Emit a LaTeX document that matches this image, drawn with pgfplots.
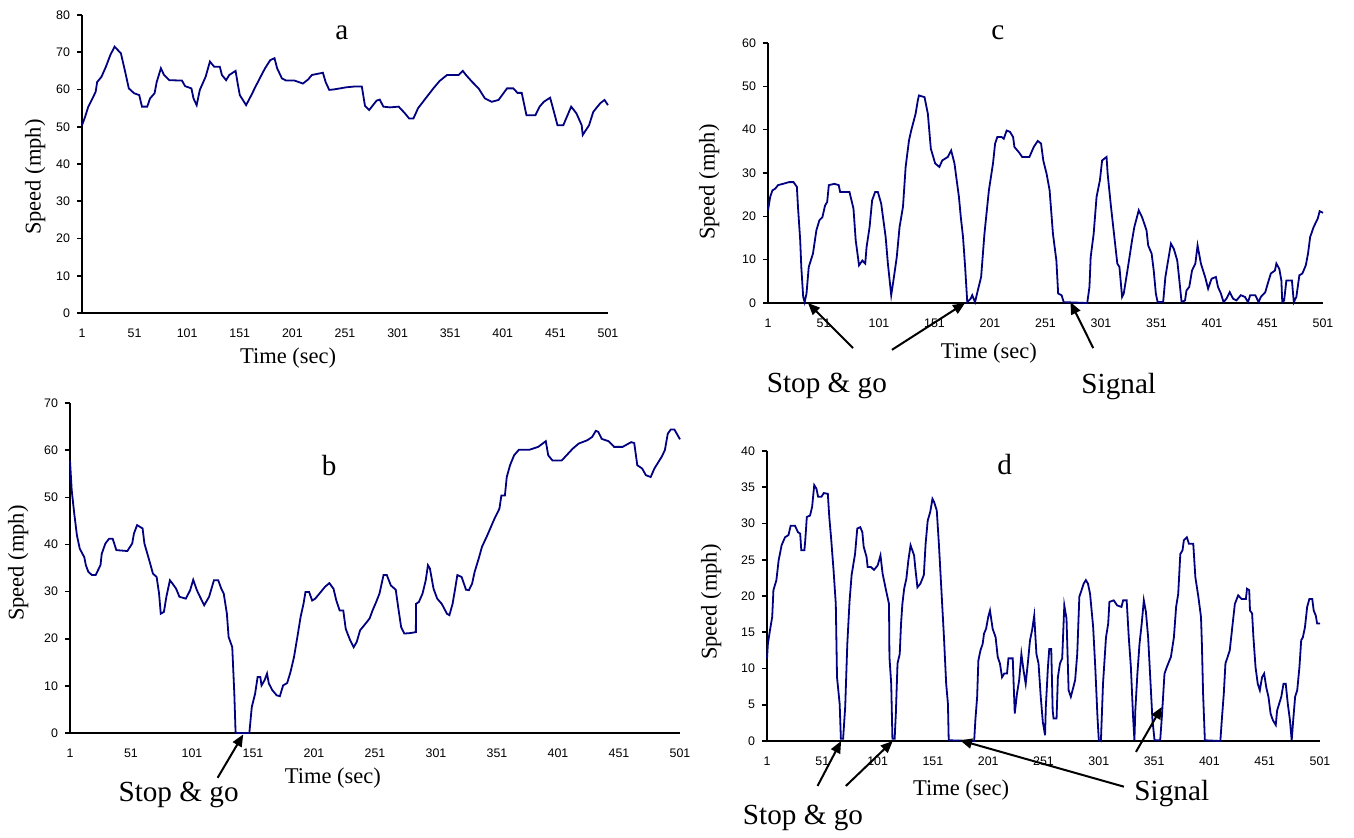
\documentclass[border=0pt]{standalone}
\usepackage{fontspec}
\setmainfont{Liberation Serif}
\setsansfont{Liberation Sans}
\usepackage{pgfplots}
\pgfplotsset{compat=1.18}
\usetikzlibrary{arrows.meta}

\definecolor{trace}{RGB}{0,0,128}

\pgfplotsset{
  panel/.style={
    scale only axis,
    axis lines=left,
    axis line style={-, line width=1pt},
    xmin=1, xmax=501, ymin=0,
    xtick={1,51,...,501},
    xtick style={draw=none},
    ytick style={black, line width=0.8pt},
    tick align=outside,
    major tick length=2.5pt,
    tick label style={font=\fontsize{6.2}{7}\selectfont\sffamily},
    /pgf/number format/assume math mode=true,
    xticklabel style={yshift=-2pt},
    label style={font=\fontsize{11.25}{13}\selectfont},
    clip=false,
  },
  speed/.style={trace, line width=0.9pt},
}
\tikzset{
  note/.style={font=\fontsize{14.6}{16}\selectfont},
  pointer/.style={black, line width=1pt, -{Triangle[length=6pt,width=5pt]}},
}

\begin{document}
\begin{tikzpicture}
\path[use as bounding box] (0,0) rectangle (677pt,418.5pt);

% ---- a ----
\begin{axis}[panel, at={(41pt,262pt)}, anchor=south west,
    width=263pt, height=149pt, ymax=80, ytick={0,10,...,80},
    xlabel={Time (sec)}, ylabel={Speed (mph)},
    xlabel style={at={(axis description cs:0.392,0)}, anchor=center, yshift=-22.5pt},
    ylabel style={at={(axis description cs:-0.089,0.456)}, anchor=center}]
\addplot[speed] coordinates {
(1,50.4) (4,52.7) (7,55.4) (11,57.6) (14,59.4) (15.4,62) (19.5,63.4) (23.7,66.1)
(28,69.3) (32,71.5) (35,70.6) (38,69.7) (42,64.8) (45.5,60.3) (50.5,59) (55.4,58.5)
(58,55.4) (63,55.4) (65.7,57.6) (70,59) (72,62) (76,65.7) (79,63.9) (84,62.5)
(96,62.4) (99,60.9) (105,60.3) (107,57.6) (110,55.8) (113,59.9) (118.5,63.4) (122.6,67.5)
(126.7,66.1) (132,66.1) (134,63.9) (138,62.5) (141,63.9) (147,65) (149,61.6) (151,58.5)
(157,55.8) (162,58.5) (166,60.8) (170,63) (175,65.7) (180,67.9) (184,68.4) (186.5,65.7)
(191,63) (195,62.4) (203,62.4) (211,61.6) (216,62.7) (219.5,63.9) (230,64.5) (232.6,62)
(236,59.9) (240,60) (252.5,60.6) (260,60.8) (267,60.8) (270,55.6) (274,54.5) (281,57)
(284,57.3) (287.5,55.4) (293.7,55.2) (302,55.4) (308,53.6) (312,52.2) (316,52.2) (320.5,55)
(328.7,58) (335,60.3) (341,62.3) (348,63.9) (359,63.9) (363,65) (366,63.9) (372,62)
(378,60.3) (384,57.6) (390.5,56.7) (397,57.2) (405,60.3) (411,60.3) (415,59.1) (419,59.1)
(423.5,53.1) (432,53.1) (436,55.4) (440,56.7) (446,57.8) (450,53.6) (453,50.4) (458.5,50.4)
(466,55.4) (471,53.6) (476,50.4) (477,47.8) (483,50.4) (487,54) (493.6,56.3) (497.7,57.2)
(501,55.8)
};
\node[note] at (axis description cs:0.494,0.94) {a};
\end{axis}

% ---- b ----
\begin{axis}[panel, at={(35pt,52pt)}, anchor=south west,
    width=305pt, height=165pt, ymax=70, ytick={0,10,...,70},
    xlabel={Time (sec)}, ylabel={Speed (mph)},
    xlabel style={at={(axis description cs:0.431,0)}, anchor=center, yshift=-22.5pt},
    ylabel style={at={(axis description cs:-0.085,0.515)}, anchor=center}]
\addplot[speed] coordinates {
(1,57.8) (2.4,51.5) (4.5,46.5) (6.7,41.9) (9,39.1) (12.7,37.3) (14,35.6) (16,34.2)
(19,33.5) (22,33.5) (26,35.6) (27,38) (30,40.2) (33,41.2) (36,41.2) (39,38.8)
(48,38.6) (52,40.2) (53.4,42.3) (56,44.1) (60.5,43.4) (62,40.2) (66,36.6) (69,33.8)
(72,33.1) (74,29.6) (75.4,25.3) (78,25.7) (80,28.9) (82.9,32.4) (85,31.7) (88,30.6)
(90.7,28.9) (96,28.5) (99.5,30.3) (102,32.5) (105,30.3) (107,29.2) (111,27.1) (115,28.9)
(119,32.4) (122.5,32.4) (125,30.6) (127,29.6) (129.6,25.3) (131,20.4) (134,18.2) (135.7,8.3)
(136.7,0.2) (137.8,0) (148,0) (150,5.5) (152.7,8.3) (154.8,11.9) (157,11.9) (158,10.1)
(160.5,11.2) (162.5,12.6) (164,10.5) (166.8,9.1) (170.4,8) (173,7.8) (175.7,10.1) (179,10.6)
(181.7,12.9) (184.6,16.1) (187.4,20.4) (190,24.6) (192.4,27.4) (194,29.9) (197,29.9) (199.5,28.1)
(202,28.5) (206.5,29.9) (210,31) (213.6,31.8) (217,30.6) (219.3,28.1) (222,26) (225,26)
(227,22.1) (230.6,19.7) (233.5,18.2) (236,19.3) (238.8,21.8) (242,22.8) (246.6,24.3) (249,26)
(252,27.8) (254.7,29.6) (258,33.5) (260.7,33.5) (264,31.3) (268,30.4) (270,26.7) (272.4,22.5)
(275,21.1) (280,21.2) (284.5,21.4) (284.6,27.4) (287,27.8) (290,29.6) (292.6,32.4) (294.4,35.6)
(296,34.9) (299,30.6) (302,28.5) (305.7,27.4) (310,25.3) (312,25) (314.6,27.4) (316.7,30.6)
(318.5,33.5) (322,33.1) (325.6,30.4) (328,30.3) (330.6,31.7) (332.7,34.2) (336,37) (338.7,39.5)
(343,41.9) (346,43.7) (349,45.5) (353,47.6) (354.6,50.4) (357.5,50.4) (359,54.3) (361.7,56.8)
(365,58.9) (369,60.1) (377.7,60.1) (384.8,60.7) (391,61.9) (393,58.9) (396.5,57.8) (404,57.8)
(408,58.9) (413,60.3) (418,61.4) (425,62.1) (429,62.8) (432,64.1) (434,63.9) (436.8,62.4)
(442.5,61.9) (447,60.7) (454,60.7) (461,61.7) (463.5,61.5) (466,56.8) (470,56.1) (473,54.7)
(477,54.3) (480,56.1) (486,58.6) (488.6,60) (491,63.5) (493.5,64.4) (496.4,64.4) (499,63.2)
(501,62.3)
};
\node[note] at (axis description cs:0.425,0.812) {b};
\draw[pointer] (axis cs:122,-9.5) -- (axis cs:143,-0.3);
\node[note] at (axis cs:90,-13.2) {Stop \& go};
\end{axis}

% ---- c ----
\begin{axis}[panel, at={(384pt,267pt)}, anchor=south west,
    width=277.5pt, height=130pt, ymax=60, ytick={0,10,...,60},
    xlabel={Time (sec)}, ylabel={Speed (mph)},
    xlabel style={at={(axis description cs:0.398,0)}, anchor=center, yshift=-25pt},
    ylabel style={at={(axis description cs:-0.106,0.465)}, anchor=center}]
\addplot[speed] coordinates {
(1,21.4) (3,24.5) (5,26) (7.6,26.4) (10,27.2) (14.5,27.5) (20,27.9) (24,27.9)
(27,26.8) (28,22.2) (30,14.5) (31,8.3) (32.7,1.4) (34,0.2) (35.7,2.2) (37.7,8.3)
(41.5,11.4) (44.6,16.8) (47.3,19.1) (50,19.8) (52.4,22.5) (54.3,23.3) (55.8,27.2) (60.8,27.5)
(64.7,27.2) (66,25.6) (74.4,25.6) (78,21.8) (80,14.5) (83,8.7) (86,9.8) (88.6,9.1)
(89.8,12.9) (92.5,17.5) (94.8,23.7) (97.5,25.6) (100,25.6) (103,22.9) (107,15.2) (109,9.1)
(112,1.8) (114,5.2) (117,10.6) (119.5,17.5) (122.6,22.2) (125,31.4) (128,37.5) (130,39.8)
(134,43.7) (136,46.8) (137,47.9) (142,47.5) (145,43.7) (147.7,35.6) (151.6,32.2) (155.4,31.4)
(158,32.9) (163,33.7) (166,35.2) (169,32.2) (171,28.3) (173,24.5) (174.7,19.8) (176.7,15.2)
(178.6,8.3) (180.5,0.2) (183.6,1) (185,1.8) (187.5,0.2) (190,2.9) (193,6) (196,16)
(200,26) (203.7,32.2) (205.6,36.8) (207.6,38.3) (211.5,38.3) (213.4,37.9) (216,39.8) (219,39.5)
(221.8,38.3) (223,36) (227,34.8) (230,33.7) (236.5,33.7) (240.4,36) (244,37.4) (247,36.8)
(249,32.9) (252,29.8) (254.7,26) (257.7,16) (260.8,9.8) (262.4,2.2) (265.5,1.8) (267.4,0.2)
(288.6,0) (290.6,3.7) (291.7,10.6) (294.4,16) (297,24.5) (300,28.3) (302,32.9) (306,33.7)
(307,29.8) (310,22.2) (313.7,13.7) (315.7,9.1) (317.6,8.3) (320,1.4) (321.5,2.2) (325.3,8.3)
(329,14.5) (331,17.5) (335,21.4) (338,19.8) (342,16.8) (343.5,13.3) (346.6,11.4) (348.5,7.5)
(350.4,2.2) (352,0.2) (357,0.2) (359,6) (361,9.1) (364,13.7) (366.6,12.5) (369.7,9.8)
(371.6,5.2) (373.6,0.2) (376.7,0.6) (378,2.9) (380.5,3.7) (383,7.5) (386,9.1) (388,13.3)
(391,9.1) (394.8,6) (397.5,3.3) (400.6,5.6) (404.5,6) (406.4,3.7) (409,2.2) (411.4,0.2)
(414,1) (417,2.5) (420,1) (423,0.6) (427,1.8) (430.7,1.4) (433.4,0.2) (435.4,1.8)
(440,1.8) (443,0.2) (445,1.4) (449,2.5) (451.6,4.8) (454,6.8) (457.7,7.5) (459,9.1)
(461.6,7.9) (463.5,5.2) (464.3,0.2) (466,0.6) (468,5.2) (473,5.2) (474.7,0.2) (477,1.4)
(479.7,6.4) (482.4,6.8) (485.5,8.7) (487.5,11.4) (489.4,15.2) (492.5,17.5) (496.3,19.5) (498,21.2)
(501,20.8)
};
\node[note] at (axis description cs:0.414,1.038) {c};
\draw[pointer] (axis cs:77.6,-10.4) -- (axis cs:37,0);
\draw[pointer] (axis cs:112.7,-10.8) -- (axis cs:178.5,0);
\draw[pointer] (axis cs:294,-10.4) -- (axis cs:273.5,0.2);
\node[note] at (axis cs:54,-19.2) {Stop \& go};
\node[note] at (axis cs:317,-19.2) {Signal};
\end{axis}

% ---- d ----
\begin{axis}[panel, at={(383.5pt,48pt)}, anchor=south west,
    width=276.5pt, height=145pt, ymax=40, ytick={0,5,...,40},
    xlabel={Time (sec)}, ylabel={Speed (mph)},
    xlabel style={at={(axis description cs:0.351,0)}, anchor=center, yshift=-24.5pt},
    ylabel style={at={(axis description cs:-0.101,0.479)}, anchor=center}]
\addplot[speed] coordinates {
(1,11.4) (1.8,13.4) (3.7,15.3) (5.7,17.1) (6.8,20.8) (9.5,22.2) (11.5,24.9) (14.2,27)
(17.3,28.1) (20.4,28.4) (22.4,29.7) (26.3,29.7) (29,28.8) (31,28.6) (32,26.3) (34.8,26.3)
(35.6,27.7) (37,30.9) (39.9,31.1) (41.8,32.3) (43.7,35.3) (45.7,34.8) (47.2,33.7) (50.3,33.7)
(52.3,34.2) (56,34.1) (57.3,30.9) (58.9,28.1) (61.2,23.5) (63.2,18.9) (64.3,8.8) (66.7,5.1)
(67.8,0.3) (69.8,0.3) (71.7,4.7) (73.6,13.4) (75.6,19.2) (77.5,22.9) (80.6,25.8) (82.6,29.3)
(85.3,29.5) (87.2,28.8) (88.4,26.8) (91,25.4) (92,24) (95,24) (97.7,23.6) (101,24.2)
(103.6,25.6) (105.5,23.1) (108.6,20.8) (111.3,18.9) (111.7,11.6) (113.3,7.9) (114.4,0.3) (116.4,0.3)
(117.5,3.8) (119,10.7) (121,12) (122.2,16.2) (123.4,18.9) (125,21) (127,22.4) (128.8,24.9)
(130.8,27) (134,25.6) (135,24) (137,21.2) (139.7,21.7) (142.8,22.9) (144.4,27.2) (146.3,30.4)
(148.6,31.6) (150.6,33.4) (152,33) (154.5,31.8) (156.4,27.2) (158.3,21.9) (161,14.3) (163,7.9)
(164.6,5.1) (165.3,0.1) (188.3,0) (189.4,2.9) (191,6.1) (192.1,11.1) (194,12.5) (196,13.4)
(197.2,14.8) (199.1,15.5) (201,17.1) (202.6,18) (205,15.5) (207.7,14.3) (209.6,11.6) (211.6,10.7)
(213.5,8.8) (215.5,9.3) (218,9.3) (219.3,11.4) (223.2,11.4) (224,7.9) (225,3.8) (227,6.5)
(229,8.4) (231,12) (233,9.7) (234.9,7.9) (236.8,10.7) (238.8,13.9) (240.7,15.3) (242.6,17.3)
(244.6,12) (246.5,10.7) (248.5,6.1) (250.4,2.6) (252.4,0.8) (253.1,4.7) (255,10.2) (256.2,12.7)
(258,12.7) (259.3,4.2) (260.1,3.1) (262.8,3.1) (264,8.8) (265.9,10.7) (267.9,11.4) (269.8,18.7)
(271.8,16.9) (273.7,7) (275.7,6.1) (277.6,7.2) (279.6,8.4) (281.5,12) (283.4,19.9) (285.4,20.8)
(287.3,21.7) (289.3,22.2) (291.2,21.7) (293.1,20.3) (295.9,15.7) (297.8,10.2) (299.8,3.3) (301,0.1)
(302.9,0) (304.8,7.9) (307.5,14.3) (309.5,16.2) (310.6,19.2) (314.5,19.4) (317.6,18.7) (321.5,18.5)
(323,19.4) (326.2,19.4) (328.1,14.3) (330,10.2) (332,3.3) (333.2,0.1) (334,4.2) (335.9,9.3)
(337.8,13.4) (339.8,16.2) (341.7,19.4) (343.6,17.8) (345.6,14.3) (347.5,8.8) (349.5,2.9) (351.4,0.1)
(356.5,0.1) (358,3.3) (360.4,9.3) (363,10.4) (366.2,11.6) (368.9,14.3) (370.9,18.5) (372.8,20.3)
(374.7,25.8) (376.7,26.3) (377.9,27.7) (380.6,28.1) (382.5,27.2) (386.4,27.2) (388.3,22.6) (391,19.9)
(393.4,17.1) (394.2,13.4) (395.3,6.5) (396.9,0.1) (410.9,0) (412.4,3.3) (414,6.5) (415.5,10.7)
(417.5,11.6) (419.4,12.5) (421.4,15.3) (424,18.9) (427,20.1) (430,19.6) (434,19.6) (435,21)
(437,20.8) (437.7,18) (439.6,17.6) (440.8,14.3) (442.7,10.2) (444.7,7.9) (446.6,7) (448.6,8.8)
(450.5,9.3) (452.4,7.4) (454.4,6.1) (456.3,3.8) (458.3,2.9) (461,2.2) (462.2,4.2) (464,5.1)
(466,6.1) (468,7.9) (470,7.9) (471.9,5.1) (473.8,2.9) (475.4,0.1) (477,3.3) (478.5,6.1)
(480.4,7) (482.4,10.2) (484,13.9) (485.5,14.3) (487.4,15.7) (489.4,18.5) (491.4,19.6) (494,19.6)
(495.3,18) (497.2,17.3) (498.4,16.2) (501,16.2)
};
\node[note] at (axis description cs:0.43,0.952) {d};
\draw[pointer] (axis cs:46.7,-6.2) -- (axis cs:68,0);
\draw[pointer] (axis cs:72.3,-6.2) -- (axis cs:114.7,0);
\draw[pointer] (axis cs:323.7,-6.3) -- (axis cs:175.5,0.1);
\draw[pointer] (axis cs:334.6,-1.5) -- (axis cs:358,4.7);
\node[note] at (axis cs:33.5,-10.6) {Stop \& go};
\node[note] at (axis cs:367,-7.2) {Signal};
\end{axis}
\end{tikzpicture}
\end{document}
